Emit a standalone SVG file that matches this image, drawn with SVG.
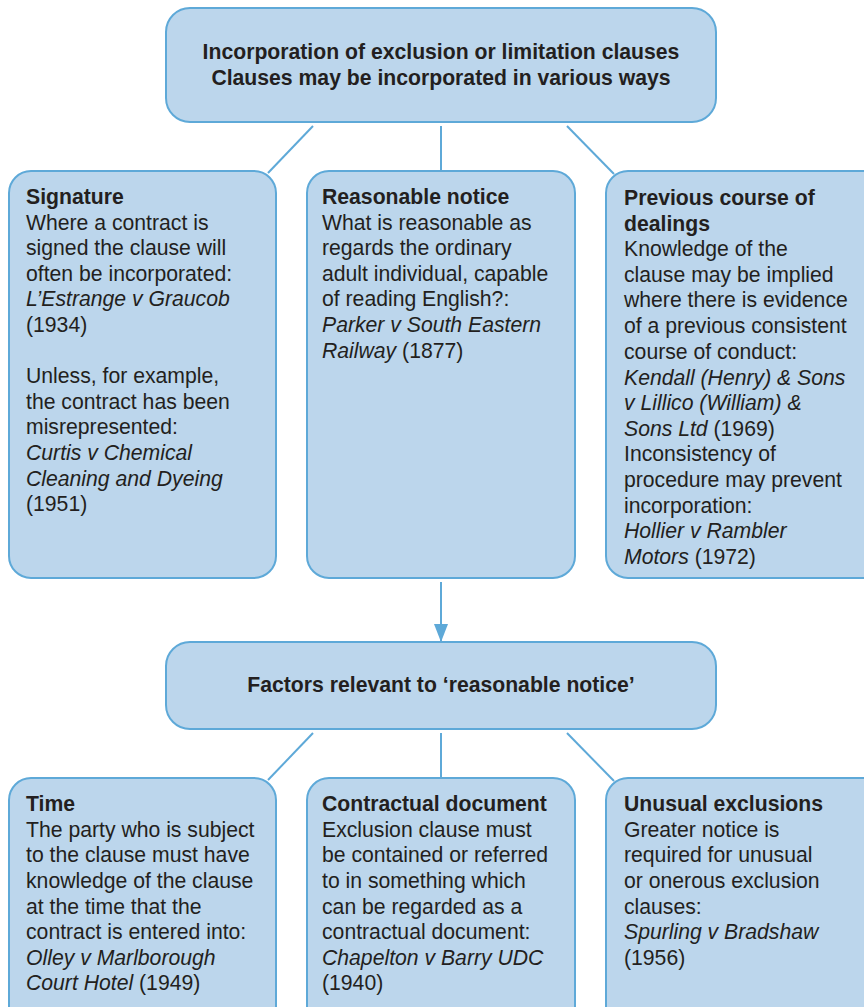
<svg xmlns="http://www.w3.org/2000/svg" width="864" height="1007" viewBox="0 0 864 1007">
<defs>
<style>
.box{fill:#bcd6ec;stroke:#5ea9d8;stroke-width:2}
.con{stroke:#5ea9d8;stroke-width:2;fill:none}
text{font-family:"Liberation Sans",Arial,sans-serif;font-size:21.2px;fill:#231f20}
.b{font-weight:bold}
.i{font-style:italic}
.c{text-anchor:middle}
</style>
<marker id="ah" viewBox="0 0 18 14" refX="18" refY="7" markerWidth="9" markerHeight="7" orient="auto" markerUnits="strokeWidth">
<path d="M0,0 L18,7 L0,14 z" fill="#5ea9d8"/>
</marker>
</defs>
<rect width="864" height="1007" fill="#fff"/>
<g id="connectors">
<line class="con" x1="313" y1="126" x2="268" y2="173"/>
<line class="con" x1="441" y1="126" x2="441" y2="171"/>
<line class="con" x1="567" y1="126" x2="614" y2="174"/>
<line class="con" x1="441" y1="582" x2="441" y2="642" marker-end="url(#ah)"/>
<line class="con" x1="313" y1="733" x2="268" y2="780"/>
<line class="con" x1="441" y1="733" x2="441" y2="778"/>
<line class="con" x1="567" y1="733" x2="614" y2="781"/>
</g>
<g id="n-top">
<rect class="box" x="166" y="8" width="550" height="114" rx="24"/>
<text class="b c" x="441" y="59">Incorporation of exclusion or limitation clauses</text>
<text class="b c" x="441" y="85">Clauses may be incorporated in various ways</text>
</g>
<g id="n-signature">
<rect class="box" x="9" y="171" width="267" height="407" rx="22"/>
<text x="26" y="204" class="b">Signature</text>
<text x="26" y="230">Where a contract is</text>
<text x="26" y="255">signed the clause will</text>
<text x="26" y="281">often be incorporated:</text>
<text x="26" y="306" class="i">L’Estrange v Graucob</text>
<text x="26" y="332">(1934)</text>
<text x="26" y="383">Unless, for example,</text>
<text x="26" y="409">the contract has been</text>
<text x="26" y="434">misrepresented:</text>
<text x="26" y="460" class="i">Curtis v Chemical</text>
<text x="26" y="486" class="i">Cleaning and Dyeing</text>
<text x="26" y="511">(1951)</text>
</g>
<g id="n-notice">
<rect class="box" x="307" y="171" width="268" height="407" rx="22"/>
<text x="322" y="204" class="b">Reasonable notice</text>
<text x="322" y="230">What is reasonable as</text>
<text x="322" y="255">regards the ordinary</text>
<text x="322" y="281">adult individual, capable</text>
<text x="322" y="306">of reading English?:</text>
<text x="322" y="332" class="i">Parker v South Eastern</text>
<text x="322" y="358"><tspan class="i">Railway</tspan> (1877)</text>
</g>
<g id="n-previous">
<rect class="box" x="606" y="171" width="280" height="407" rx="22"/>
<text x="624" y="205" class="b">Previous course of</text>
<text x="624" y="231" class="b">dealings</text>
<text x="624" y="256">Knowledge of the</text>
<text x="624" y="282">clause may be implied</text>
<text x="624" y="307">where there is evidence</text>
<text x="624" y="333">of a previous consistent</text>
<text x="624" y="359">course of conduct:</text>
<text x="624" y="385" class="i">Kendall (Henry) &amp; Sons</text>
<text x="624" y="410" class="i">v Lillico (William) &amp;</text>
<text x="624" y="436"><tspan class="i">Sons Ltd</tspan> (1969)</text>
<text x="624" y="461">Inconsistency of</text>
<text x="624" y="487">procedure may prevent</text>
<text x="624" y="513">incorporation:</text>
<text x="624" y="538" class="i">Hollier v Rambler</text>
<text x="624" y="564"><tspan class="i">Motors</tspan> (1972)</text>
</g>
<g id="n-factors">
<rect class="box" x="166" y="642" width="550" height="87" rx="24"/>
<text class="b c" x="441" y="692">Factors relevant to ‘reasonable notice’</text>
</g>
<g id="n-time">
<rect class="box" x="9" y="778" width="267" height="250" rx="22"/>
<text x="26" y="811" class="b">Time</text>
<text x="26" y="837">The party who is subject</text>
<text x="26" y="862">to the clause must have</text>
<text x="26" y="888">knowledge of the clause</text>
<text x="26" y="914">at the time that the</text>
<text x="26" y="939">contract is entered into:</text>
<text x="26" y="965" class="i">Olley v Marlborough</text>
<text x="26" y="990"><tspan class="i">Court Hotel</tspan> (1949)</text>
</g>
<g id="n-document">
<rect class="box" x="307" y="778" width="268" height="250" rx="22"/>
<text x="322" y="811" class="b">Contractual document</text>
<text x="322" y="837">Exclusion clause must</text>
<text x="322" y="862">be contained or referred</text>
<text x="322" y="888">to in something which</text>
<text x="322" y="914">can be regarded as a</text>
<text x="322" y="939">contractual document:</text>
<text x="322" y="965" class="i">Chapelton v Barry UDC</text>
<text x="322" y="990">(1940)</text>
</g>
<g id="n-unusual">
<rect class="box" x="606" y="778" width="280" height="250" rx="22"/>
<text x="624" y="811" class="b">Unusual exclusions</text>
<text x="624" y="837">Greater notice is</text>
<text x="624" y="862">required for unusual</text>
<text x="624" y="888">or onerous exclusion</text>
<text x="624" y="914">clauses:</text>
<text x="624" y="939" class="i">Spurling v Bradshaw</text>
<text x="624" y="965">(1956)</text>
</g>
</svg>
